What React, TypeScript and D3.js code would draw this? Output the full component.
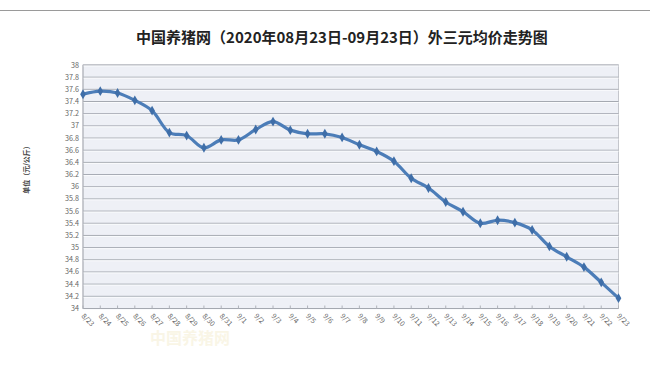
import React from "react";
import * as d3 from "d3";

const dates = [
  "8/23","8/24","8/25","8/26","8/27","8/28","8/29","8/30","8/31",
  "9/1","9/2","9/3","9/4","9/5","9/6","9/7","9/8","9/9","9/10","9/11","9/12",
  "9/13","9/14","9/15","9/16","9/17","9/18","9/19","9/20","9/21","9/22","9/23",
];
const prices = [
  37.52, 37.57, 37.54, 37.42, 37.25, 36.89, 36.84, 36.64, 36.77,
  36.77, 36.94, 37.07, 36.93, 36.87, 36.87, 36.81, 36.69, 36.58, 36.42, 36.14, 35.98,
  35.75, 35.59, 35.40, 35.45, 35.41, 35.29, 35.02, 34.85, 34.68, 34.43, 34.17,
];
const yTicks = d3.range(34, 38.0001, 0.2).map((v) => +v.toFixed(1));
const title = "中国养猪网（2020年08月23日-09月23日）外三元均价走势图";
const yTitle = "单位（元/公斤）";

export default function App() {
  const W = 650, H = 366;
  const left = 83, right = 618.5, top = 65, bottom = 308.5;
  const x = d3.scalePoint<string>().domain(dates).range([left, right]);
  const y = d3.scaleLinear().domain([34, 38]).range([bottom, top]);
  const line = d3
    .line<number>()
    .x((_, i) => x(dates[i]) as number)
    .y((d) => y(d))
    .curve(d3.curveCatmullRom.alpha(0.5));
  const pathD = line(prices) || "";
  const font = "'Noto Sans CJK SC', 'Noto Sans', sans-serif";
  const diamond = d3.symbol().type(d3.symbolDiamond).size(28)() || "";

  return (
    <svg
      width={W}
      height={H}
      style={{ position: "absolute", left: 0, top: 0, background: "#fff" }}
      fontFamily={font}
    >
      <line x1={0} x2={W} y1={10.5} y2={10.5} stroke="#9a9a9a" strokeWidth={1.2} />
      <text
        x={342}
        y={43}
        textAnchor="middle"
        fontSize={15}
        fontWeight="bold"
        fill="#222"
      >
        {title}
      </text>
      <rect x={left} y={top} width={right - left} height={bottom - top} fill="#eef0f6" stroke="#c4c6cc" />
      {yTicks.map((t) => (
        <g key={t}>
          <line x1={left} x2={right} y1={y(t)} y2={y(t)} stroke="#a4a8b0" strokeWidth={1} />
          <line x1={left} x2={right} y1={y(t) + 1} y2={y(t) + 1} stroke="#fafbfd" strokeWidth={1} />
          <text x={79} y={y(t) + 2.5} textAnchor="end" fontSize={7.2} fill="#666">
            {String(t)}
          </text>
        </g>
      ))}
      <line x1={left} x2={left} y1={top} y2={bottom} stroke="#b0b3ba" />
      {dates.map((d) => (
        <g key={d}>
          <line x1={x(d)} x2={x(d)} y1={bottom} y2={bottom - 3} stroke="#b0b3ba" />
          <text
            transform={`translate(${(x(d) as number) - 2},${bottom + 8}) rotate(45)`}
            fontSize={7}
            fill="#666"
          >
            {d}
          </text>
        </g>
      ))}
      <text
        transform="translate(29,168) rotate(-90)"
        textAnchor="middle"
        fontSize={7}
        fontWeight="bold"
        fill="#444"
      >
        {yTitle}
      </text>
      <path d={pathD} fill="none" stroke="#4c7db8" strokeWidth={3.2} strokeLinejoin="round" />
      {prices.map((v, i) => (
        <path
          key={i}
          d={diamond}
          transform={`translate(${x(dates[i])},${y(v)})`}
          fill="#3f6ea8"
        />
      ))}
      <text x={190} y={344} textAnchor="middle" fontSize={16} fontWeight="bold" fill="#f3ebc8" opacity={0.45}>
        中国养猪网
      </text>
    </svg>
  );
}
